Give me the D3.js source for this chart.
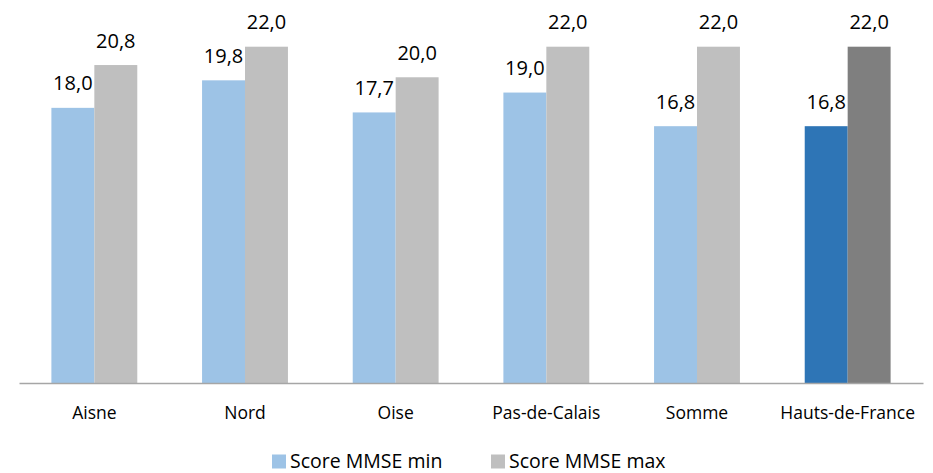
<!DOCTYPE html>
<html><head><meta charset="utf-8">
<script src="https://cdn.jsdelivr.net/npm/d3@7"></script>
<style>body{margin:0;background:#fff;} text{font-family:"Open Sans",sans-serif;fill:#000;}</style>
</head><body><svg id="c" width="933" height="473"></svg>
<script>
const categories = ["Aisne","Nord","Oise","Pas-de-Calais","Somme","Hauts-de-France"];
const minValues = [18.0,19.8,17.7,19.0,16.8,16.8];
const maxValues = [20.8,22.0,20.0,22.0,22.0,22.0];
const seriesNames = ["Score MMSE min","Score MMSE max"];

const svg = d3.select("#c");
const x0 = d3.scaleBand().domain(categories).range([19,923]).paddingInner(0.43).paddingOuter(0.215);
const x1 = d3.scaleBand().domain([0,1]).range([0,x0.bandwidth()]);
const y = d3.scaleLinear().domain([0,22]).range([383,46.7]);
const colMin = (i)=> i===5 ? "#2E75B6" : "#9DC3E6";
const colMax = (i)=> i===5 ? "#7F7F7F" : "#BFBFBF";
const fmt = v => d3.format(".1f")(v).replace(".",",");

const g = svg.append("g");
categories.forEach((c,i)=>{
  [[minValues[i],colMin(i)],[maxValues[i],colMax(i)]].forEach(([v,col],k)=>{
    const bx = x0(c)+x1(k);
    g.append("rect").attr("x",bx).attr("y",y(v)).attr("width",x1.bandwidth()).attr("height",y(0)-y(v)).attr("fill",col);
    g.append("text").attr("x",bx+x1.bandwidth()/2).attr("y",y(v)-17.5).attr("text-anchor","middle").attr("font-size",20).text(fmt(v));
  });
});
const ax = svg.append("g").attr("transform","translate(0,383)").call(d3.axisBottom(x0).tickSize(0).tickPadding(0));
ax.attr("font-family",null).attr("font-size",null);
ax.select(".domain").attr("stroke","#A6A6A6").attr("stroke-width",1.3);
ax.selectAll("text").attr("font-size",17.5).attr("dy",0).attr("y",35.5).style("font-family","'Open Sans'");

const leg = [[272,seriesNames[0],"#9DC3E6"],[491,seriesNames[1],"#BFBFBF"]];
leg.forEach(([lx,t,col])=>{
  svg.append("rect").attr("x",lx).attr("y",454.5).attr("width",14).attr("height",14).attr("fill",col);
  svg.append("text").attr("x",lx+18).attr("y",467.5).attr("font-size",19.5).text(t);
});
</script></body></html>
